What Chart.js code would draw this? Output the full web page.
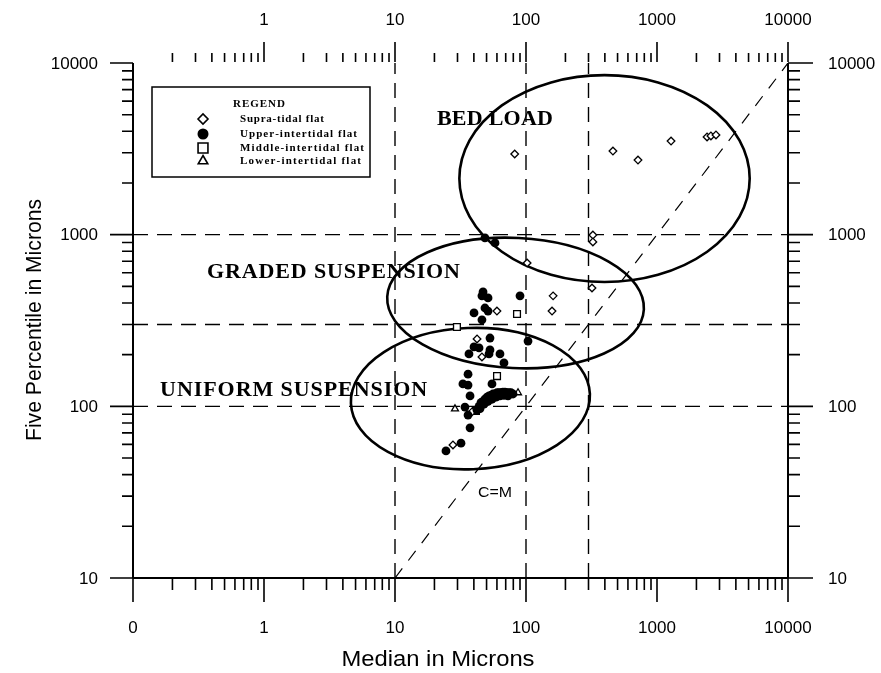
<!DOCTYPE html>
<html>
<head>
<meta charset="utf-8">
<script src="https://cdn.jsdelivr.net/npm/chart.js@4.4.1/dist/chart.umd.min.js"></script>
<style>
  html, body { margin: 0; padding: 0; background: #fff; }
  #wrap { width: 881px; height: 673px; }
</style>
</head>
<body>
<div id="wrap"><canvas id="sedimentChart" width="881" height="673"></canvas></div>
<script>
// Median (x) vs five percentile (y), microns
const supraX = [82, 461, 716, 1280, 2410, 2580, 2820, 324, 324, 102, 319, 161, 158, 60, 42.3, 46.1, 27.7, 38.7];
const supraY = [2950, 3070, 2720, 3510, 3710, 3760, 3810, 995, 907, 684, 489, 440, 359, 359, 247, 194, 59.6, 92.8];

const upperX = [48.6, 58, 47, 46.1, 51.3, 90, 48.6, 51.3, 40.1, 46.1, 53.1, 103.6, 40.1, 43.8, 53.1, 36.7, 52.2, 63.3,
  67.9, 36.1, 33, 36.1, 55, 37.4, 34.2, 36.1, 37.4, 31.9, 24.5,
  42.3, 43.8, 45.3, 47, 48.6, 50.4, 52.2, 54.1, 56, 58, 60.1, 62.2, 64.4, 66.7, 69.1, 71.6, 74.2, 76.8, 79.6,
  47.8, 51.3, 55, 59, 63.3, 67.9, 72.9, 44.6, 49.5];
const upperY = [957, 895, 464, 440, 428, 440, 374, 359, 350, 319, 250, 240, 222, 219, 213, 202, 202, 202,
  179, 154, 135, 133, 135, 115, 99, 89, 75, 61, 55,
  95, 100, 105, 107, 110, 113, 115, 116, 118, 118, 120, 120, 120, 121, 121, 120, 120, 120, 118,
  103, 107, 110, 113, 115, 116, 115, 97, 106];

const middleX = [85.4, 60.1, 41.5, 29.7];
const middleY = [345, 150, 94, 290];

const lowerX = [86.9, 28.7];
const lowerY = [120, 96.6];

const legendLabels = ['Supra-tidal flat', 'Upper-intertidal flat', 'Middle-intertidal flat', 'Lower-intertidal flat'];

// axes
const xMajor = [0.1, 1, 10, 100, 1000, 10000];
const xTickLabels = ['0', '1', '10', '100', '1000', '10000'];
const xTopLabels = ['', '1', '10', '100', '1000', '10000'];
const yMajor = [10, 100, 1000, 10000];
const yTickLabels = ['10', '100', '1000', '10000'];

// dashed guide lines and the C=M line
const guideX = [10, 100, 300];
const guideY = [100, 300, 1000];
const diagonal = [10, 10000];

// field ellipses (data extents)
const ellipseX = [[31, 5100], [8.7, 796], [4.6, 308]];
const ellipseY = [[530, 8500], [167, 957], [43, 286]];
const ellipseTilt = [0, 0.05, -0.04];
const regionLabels = ['BED LOAD', 'GRADED SUSPENSION', 'UNIFORM SUSPENSION'];
const regionAnchorX = [20.9, 0.367, 0.161];
const regionAnchorY = [4355, 560, 115];
const regionWidth = [116, 253, 267];

function pts(xs, ys) { return xs.map((v, i) => ({ x: v, y: ys[i] })); }

function minorTicks(lo, hi) {
  const out = [];
  for (let d = lo; d < hi; d *= 10) for (let k = 2; k <= 9; k++) out.push(d * k);
  return out;
}

function spacedText(ctx, text, x, y, w) {
  const chars = [...text];
  const widths = chars.map(c => ctx.measureText(c).width);
  const total = widths.reduce((a, b) => a + b, 0);
  const gap = (w - total) / (chars.length - 1);
  let cx = x;
  chars.forEach((c, i) => { ctx.fillText(c, cx, y); cx += widths[i] + gap; });
}

function fitText(ctx, text, x, y, w) {
  const m = ctx.measureText(text).width;
  ctx.save();
  ctx.translate(x, y);
  ctx.scale(w / m, 1);
  ctx.textAlign = 'center';
  ctx.fillText(text, 0, 0);
  ctx.restore();
}

const guideLines = [];
guideX.forEach(v => guideLines.push([{ x: v, y: 10 }, { x: v, y: 10000 }]));
guideY.forEach(v => guideLines.push([{ x: 0.1, y: v }, { x: 10000, y: v }]));

const ellipses = {
  id: 'ellipses',
  beforeDatasetsDraw(chart) {
    const { ctx, scales: { x, y } } = chart;
    ctx.save();
    ctx.strokeStyle = '#000';
    ctx.lineWidth = 2.6;
    ellipseX.forEach((r, i) => {
      const x0 = x.getPixelForValue(r[0]), x1 = x.getPixelForValue(r[1]);
      const y0 = y.getPixelForValue(ellipseY[i][0]), y1 = y.getPixelForValue(ellipseY[i][1]);
      ctx.beginPath();
      ctx.ellipse((x0 + x1) / 2, (y0 + y1) / 2, Math.abs(x1 - x0) / 2, Math.abs(y1 - y0) / 2, ellipseTilt[i], 0, Math.PI * 2);
      ctx.stroke();
    });
    ctx.restore();
  }
};

const frame = {
  id: 'frame',
  afterDraw(chart) {
    const { ctx, chartArea: a, scales: { x, y } } = chart;
    ctx.save();
    ctx.strokeStyle = '#000';
    ctx.fillStyle = '#000';
    ctx.lineWidth = 2;
    ctx.beginPath();
    ctx.moveTo(a.left, a.top); ctx.lineTo(a.left, a.bottom);
    ctx.moveTo(a.right, a.top); ctx.lineTo(a.right, a.bottom);
    ctx.moveTo(a.left, a.bottom); ctx.lineTo(a.right, a.bottom);
    ctx.stroke();

    // ticks
    ctx.lineWidth = 1.6;
    ctx.beginPath();
    minorTicks(0.1, 10000).forEach(v => {
      const px = x.getPixelForValue(v);
      ctx.moveTo(px, a.bottom); ctx.lineTo(px, a.bottom + 12);
      ctx.moveTo(px, a.top - 1); ctx.lineTo(px, a.top - 10);
    });
    minorTicks(10, 10000).forEach(v => {
      const py = y.getPixelForValue(v);
      ctx.moveTo(a.left, py); ctx.lineTo(a.left - 11, py);
      ctx.moveTo(a.right, py); ctx.lineTo(a.right + 12, py);
    });
    xMajor.forEach((v, i) => {
      const px = x.getPixelForValue(v);
      ctx.moveTo(px, a.bottom); ctx.lineTo(px, a.bottom + 24);
      if (i > 0) { ctx.moveTo(px, a.top - 1); ctx.lineTo(px, a.top - 21); }
    });
    yMajor.forEach(v => {
      const py = y.getPixelForValue(v);
      ctx.moveTo(a.left, py); ctx.lineTo(a.left - 23, py);
      ctx.moveTo(a.right, py); ctx.lineTo(a.right + 25, py);
    });
    ctx.stroke();

    // tick labels
    ctx.font = '17px "Liberation Sans", Arial, sans-serif';
    ctx.textBaseline = 'middle';
    ctx.textAlign = 'center';
    xMajor.forEach((v, i) => {
      const px = x.getPixelForValue(v);
      ctx.fillText(xTickLabels[i], px, a.bottom + 50);
      if (xTopLabels[i]) ctx.fillText(xTopLabels[i], px, 20);
    });
    yMajor.forEach((v, i) => {
      const py = y.getPixelForValue(v);
      ctx.textAlign = 'right';
      ctx.fillText(yTickLabels[i], a.left - 35, py + 1);
      ctx.textAlign = 'left';
      ctx.fillText(yTickLabels[i], a.right + 40, py + 1);
    });

    // axis titles
    ctx.font = '22px "Liberation Sans", Arial, sans-serif';
    fitText(ctx, 'Median in Microns', 438, 660, 193);
    ctx.save();
    ctx.translate(35, 320);
    ctx.rotate(-Math.PI / 2);
    fitText(ctx, 'Five Percentile in Microns', 0, 0, 242);
    ctx.restore();

    // C=M
    ctx.font = '15px "Liberation Sans", Arial, sans-serif';
    fitText(ctx, 'C=M', x.getPixelForValue(58), y.getPixelForValue(31.3), 34);

    // field names
    ctx.font = 'bold 22px "Liberation Serif", "Times New Roman", serif';
    ctx.textAlign = 'left';
    ctx.textBaseline = 'alphabetic';
    regionLabels.forEach((t, i) => {
      spacedText(ctx, t, x.getPixelForValue(regionAnchorX[i]), y.getPixelForValue(regionAnchorY[i]), regionWidth[i]);
    });

    // legend box
    ctx.lineWidth = 1.5;
    ctx.fillStyle = '#fff';
    ctx.fillRect(152, 87, 218, 90);
    ctx.strokeRect(152, 87, 218, 90);
    ctx.fillStyle = '#000';
    ctx.font = 'bold 11px "Liberation Serif", "Times New Roman", serif';
    ctx.textBaseline = 'middle';
    spacedText(ctx, 'REGEND', 233, 104, 52);
    const rows = [119, 134, 148, 161];
    const widths = [84, 117, 124, 121];
    const styles = [
      { pointStyle: 'rectRot', radius: 5, borderWidth: 1.6, fill: '#fff' },
      { pointStyle: 'circle', radius: 5.5, borderWidth: 0, fill: '#000' },
      { pointStyle: 'rect', radius: 7, borderWidth: 1.6, fill: '#fff' },
      { pointStyle: 'triangle', radius: 5.5, borderWidth: 1.6, fill: '#fff' }
    ];
    legendLabels.forEach((t, i) => {
      ctx.fillStyle = styles[i].fill;
      ctx.strokeStyle = '#000';
      ctx.lineWidth = styles[i].borderWidth;
      Chart.helpers.drawPoint(ctx, { pointStyle: styles[i].pointStyle, radius: styles[i].radius, borderWidth: styles[i].borderWidth, rotation: 0 }, 203, rows[i]);
      ctx.fillStyle = '#000';
      spacedText(ctx, t, 240, rows[i], widths[i]);
    });
    ctx.restore();
  }
};

const datasets = [
  { label: legendLabels[0], data: pts(supraX, supraY), pointStyle: 'rectRot', pointRadius: 3.8,
    backgroundColor: '#fff', borderColor: '#000', borderWidth: 1.3, order: 1 },
  { label: legendLabels[1], data: pts(upperX, upperY), pointStyle: 'circle', pointRadius: 4.4,
    backgroundColor: '#000', borderColor: '#000', borderWidth: 0, order: 0 },
  { label: legendLabels[2], data: pts(middleX, middleY), pointStyle: 'rect', pointRadius: 4.8,
    backgroundColor: '#fff', borderColor: '#000', borderWidth: 1.3, order: 2 },
  { label: legendLabels[3], data: pts(lowerX, lowerY), pointStyle: 'triangle', pointRadius: 4,
    backgroundColor: '#fff', borderColor: '#000', borderWidth: 1.3, order: 3 }
];
guideLines.forEach(line => datasets.push({
  data: line, showLine: true, pointRadius: 0, borderColor: '#000', borderWidth: 1.4,
  borderDash: [15, 9], order: 10
}));
datasets.push({
  data: diagonal.map(v => ({ x: v, y: v })), showLine: true, pointRadius: 0, borderColor: '#000',
  borderWidth: 1.2, borderDash: [12, 10], order: 10
});

new Chart(document.getElementById('sedimentChart').getContext('2d'), {
  type: 'scatter',
  data: { datasets },
  options: {
    responsive: false,
    animation: false,
    events: [],
    layout: { padding: { left: 133, right: 93, top: 63, bottom: 95 } },
    plugins: { legend: { display: false }, tooltip: { enabled: false } },
    scales: {
      x: { type: 'logarithmic', min: 0.1, max: 10000, display: false },
      y: { type: 'logarithmic', min: 10, max: 10000, display: false }
    }
  },
  plugins: [ellipses, frame]
});
</script>
</body>
</html>
